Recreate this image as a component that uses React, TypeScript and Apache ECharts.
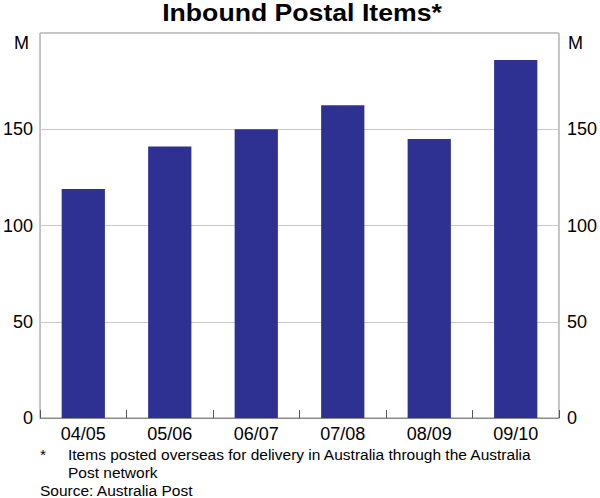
import React, { useEffect, useRef } from "react";
import * as echarts from "echarts";

const categories = ["04/05", "05/06", "06/07", "07/08", "08/09", "09/10"];
const values = [119, 141, 150, 162.5, 145, 186];
const yTicks = { min: 0, max: 200, interval: 50 };
const title = "Inbound Postal Items*";
const unit = "M";
const footnoteLines = [
  "Items posted overseas for delivery in Australia through the Australia",
  "Post network",
];
const source = "Source: Australia Post";

const FONT = "'Liberation Sans', Arial, sans-serif";

export default function App() {
  const ref = useRef<HTMLDivElement>(null);
  useEffect(() => {
    document.body.style.margin = "0";
    if (!ref.current) return;
    const chart = echarts.init(ref.current, undefined, { renderer: "svg" });
    const yLabel = {
      fontFamily: FONT,
      fontSize: 18,
      color: "#000",
      formatter: (v: number) => (v === yTicks.max ? "" : String(v)),
    };
    chart.setOption({
      animation: false,
      backgroundColor: "#fff",
      grid: {
        left: 38,
        right: 39,
        top: 33,
        bottom: 80,
        show: true,
        borderColor: "#8a8a8a",
        borderWidth: 1,
      },
      xAxis: {
        type: "category",
        data: categories,
        axisLine: { show: true, lineStyle: { color: "#8a8a8a", width: 1 } },
        axisTick: {
          show: true,
          inside: true,
          length: 8,
          alignWithLabel: false,
          lineStyle: { color: "#555" },
        },
        axisLabel: {
          fontFamily: FONT,
          fontSize: 18,
          color: "#000",
          margin: 7,
        },
        splitLine: { show: false },
      },
      yAxis: [
        {
          type: "value",
          position: "left",
          ...yTicks,
          axisLine: { show: false },
          axisTick: { show: false },
          axisLabel: { ...yLabel, margin: 7 },
          splitLine: { show: true, lineStyle: { color: "#c8c8c8", width: 1 } },
        },
        {
          type: "value",
          position: "right",
          ...yTicks,
          axisLine: { show: false },
          axisTick: { show: false },
          axisLabel: { ...yLabel, margin: 8 },
          splitLine: { show: false },
        },
      ],
      series: [
        {
          type: "bar",
          data: values,
          barWidth: "50%",
          itemStyle: { color: "#2e3192" },
          yAxisIndex: 0,
        },
      ],
      graphic: [
        {
          type: "text",
          x: 302,
          y: 12,
          scaleX: 1.11,
          style: {
            text: title,
            fontFamily: FONT,
            fontWeight: "bold",
            fontSize: 24,
            fill: "#000",
            align: "center",
            verticalAlign: "middle",
          },
        },
        {
          type: "text",
          x: 29,
          y: 43,
          style: {
            text: unit,
            fontFamily: FONT,
            fontSize: 18,
            fill: "#000",
            align: "right",
            verticalAlign: "middle",
          },
        },
        {
          type: "text",
          x: 568,
          y: 43,
          style: {
            text: unit,
            fontFamily: FONT,
            fontSize: 18,
            fill: "#000",
            align: "left",
            verticalAlign: "middle",
          },
        },
        {
          type: "text",
          x: 40,
          y: 446,
          style: { text: "*", fontFamily: FONT, fontSize: 15.5, fill: "#000" },
        },
        {
          type: "text",
          x: 68,
          y: 446,
          style: {
            text: footnoteLines.join("\n"),
            fontFamily: FONT,
            fontSize: 15.5,
            lineHeight: 17.5,
            fill: "#000",
          },
        },
        {
          type: "text",
          x: 40,
          y: 482,
          style: { text: source, fontFamily: FONT, fontSize: 15.5, fill: "#000" },
        },
      ],
    });
    return () => chart.dispose();
  }, []);
  return <div ref={ref} style={{ width: 600, height: 498 }} />;
}
